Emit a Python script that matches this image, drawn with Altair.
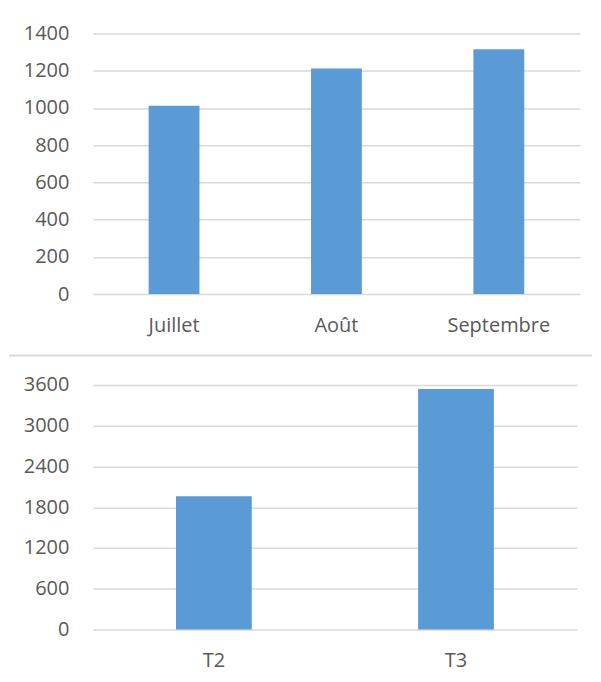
import altair as alt
import pandas as pd

months = ["Juillet", "Août", "Septembre"]
month_values = [1012, 1212, 1316]
quarters = ["T2", "T3"]
quarter_values = [1960, 3540]
top_ticks = [0, 200, 400, 600, 800, 1000, 1200, 1400]
bottom_ticks = [0, 600, 1200, 1800, 2400, 3000, 3600]

BLUE = "#5B9BD5"
GRID = "#D9D9D9"
TEXT = "#595959"
FONT = "Open Sans"
FS = 20


def bar_chart(cats, vals, ticks, w, h):
    df = pd.DataFrame({"cat": cats, "val": vals})
    return alt.Chart(df).mark_bar(color=BLUE).encode(
        x=alt.X("cat:N", sort=None, title=None,
                scale=alt.Scale(paddingInner=0.687, paddingOuter=0.3435),
                axis=alt.Axis(labelAngle=0, domain=False, ticks=False, labelPadding=21,
                              labelFontSize=FS, labelColor=TEXT, labelFont=FONT)),
        y=alt.Y("val:Q", title=None,
                scale=alt.Scale(domain=[ticks[0], ticks[-1]], nice=False),
                axis=alt.Axis(values=ticks, format="d", domain=False, ticks=False, labelPadding=24,
                              grid=True, gridColor=GRID, gridWidth=1.5,
                              labelFontSize=FS, labelColor=TEXT, labelFont=FONT)),
    ).properties(width=w, height=h)


top = bar_chart(months, month_values, top_ticks, 488, 261)

sep = alt.Chart(pd.DataFrame({"a": [0]})).mark_rule(color=GRID, strokeWidth=2).encode(
    x=alt.value(-84), x2=alt.value(500), y=alt.value(-29.5)
)
bottom = alt.layer(bar_chart(quarters, quarter_values, bottom_ticks, 485, 245), sep)

chart = alt.vconcat(top, bottom, spacing=91, bounds="flush").properties(
    padding={"left": 0, "top": 15, "right": 0, "bottom": 8},
    background="white",
).configure_view(stroke=None)

chart.save("out.html", embed_options={"renderer": "svg", "actions": False})
